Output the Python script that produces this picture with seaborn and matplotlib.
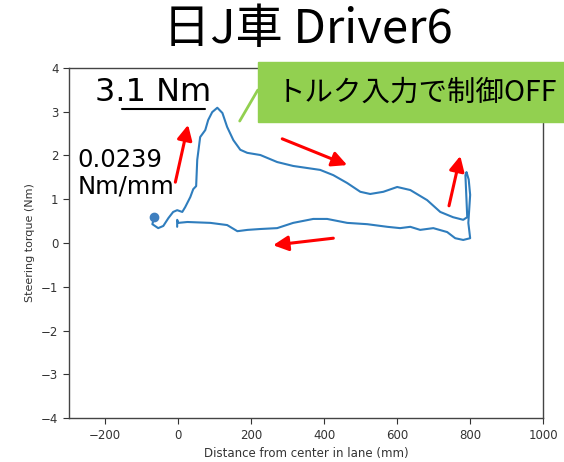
import numpy as np
import pandas as pd
import seaborn as sns
import matplotlib.pyplot as plt
from matplotlib.patches import Rectangle
from matplotlib.lines import Line2D

# data (distance mm, torque Nm), in drive order
dist = [-66, -71, -55, -41, -27, -14, -3, 11, 19, 33, 41, 49, 52, 60, 74, 82, 93, 107,
        121, 134, 151, 170, 189, 225, 271, 315, 389, 425, 463, 499, 526, 562, 600, 636,
        682, 718, 753, 781, 792, 787, 790, 796, 800, 795, 800, 781, 759, 737, 699, 663,
        636, 608, 573, 518, 463, 408, 370, 315, 271, 225, 190, 162, 134, 88, 25, 0, -3, -3]
torque = [0.59, 0.43, 0.34, 0.39, 0.57, 0.71, 0.75, 0.71, 0.82, 1.05, 1.23, 1.30, 1.90,
          2.42, 2.58, 2.81, 2.99, 3.09, 2.97, 2.65, 2.35, 2.13, 2.06, 2.01, 1.85, 1.76,
          1.67, 1.55, 1.37, 1.17, 1.12, 1.17, 1.28, 1.21, 0.98, 0.71, 0.59, 0.53, 0.59,
          1.55, 1.62, 1.45, 1.10, 0.46, 0.11, 0.07, 0.11, 0.25, 0.34, 0.30, 0.37, 0.34,
          0.37, 0.43, 0.46, 0.55, 0.55, 0.46, 0.34, 0.32, 0.30, 0.27, 0.41, 0.46, 0.48,
          0.46, 0.53, 0.37]

# red direction arrows: (tail x, tail y, head x, head y)
arrows = [(-8, 1.39, 27, 2.70),
          (285, 2.38, 463, 1.78),
          (742, 0.85, 773, 1.99),
          (425, 0.11, 260, -0.05)]

df = pd.DataFrame({"dist": dist, "torque": torque})

sns.set_style("ticks")
plt.rcParams['font.family'] = ['DejaVu Sans', 'Noto Sans CJK JP']
plt.rcParams['text.color'] = 'black'

fig = plt.figure(figsize=(5.64, 4.62), dpi=100)
ax = fig.add_axes([0.122, 0.095, 0.841, 0.758])

sns.lineplot(data=df, x="dist", y="torque", sort=False, estimator=None,
             color="#2f7dbd", lw=1.5, ax=ax)
ax.plot(dist[0], torque[0], "o", color="#3f7fbf", ms=6)

for x0, y0, x1, y1 in arrows:
    ax.annotate("", xy=(x1, y1), xytext=(x0, y0),
                arrowprops=dict(arrowstyle="-|>,head_length=0.9,head_width=0.45",
                                color="red", lw=2.2, shrinkA=0, shrinkB=0))

ax.set_xlim(-300, 1000)
ax.set_ylim(-4, 4)
ax.set_xticks([-200, 0, 200, 400, 600, 800, 1000])
ax.set_yticks(range(-4, 5))
ax.tick_params(labelsize=8.5, colors="#333333", length=4)
for s in ax.spines.values():
    s.set_color("#444444")
    s.set_linewidth(1)
ax.set_xlabel("Distance from center in lane (mm)", fontsize=8.5, color="#333333")
ax.set_ylabel("Steering torque (Nm)", fontsize=8, color="#333333")

# title and callouts
fig.text(0.545, 0.935, "日J車 Driver6", ha="center", va="center", fontsize=34,
         family=["Noto Sans CJK JP"])
fig.text(0.168, 0.80, "3.1 Nm", ha="left", va="center", fontsize=23)
fig.add_artist(Line2D([0.216, 0.364], [0.765, 0.765], color="black", lw=1.5))
fig.text(0.137, 0.625, "0.0239\nNm/mm", ha="left", va="center", fontsize=17.5,
         linespacing=1.15)

fig.add_artist(Rectangle((0.457, 0.736), 0.56, 0.13, color="#92d050",
                         transform=fig.transFigure, clip_on=False))
fig.add_artist(Line2D([0.425, 0.457], [0.738, 0.805], color="#92d050", lw=2))
fig.text(0.49, 0.80, "トルク入力で制御OFF", ha="left", va="center", fontsize=20.5,
         family=["Noto Sans CJK JP"])

plt.savefig("out.png", dpi=100)
